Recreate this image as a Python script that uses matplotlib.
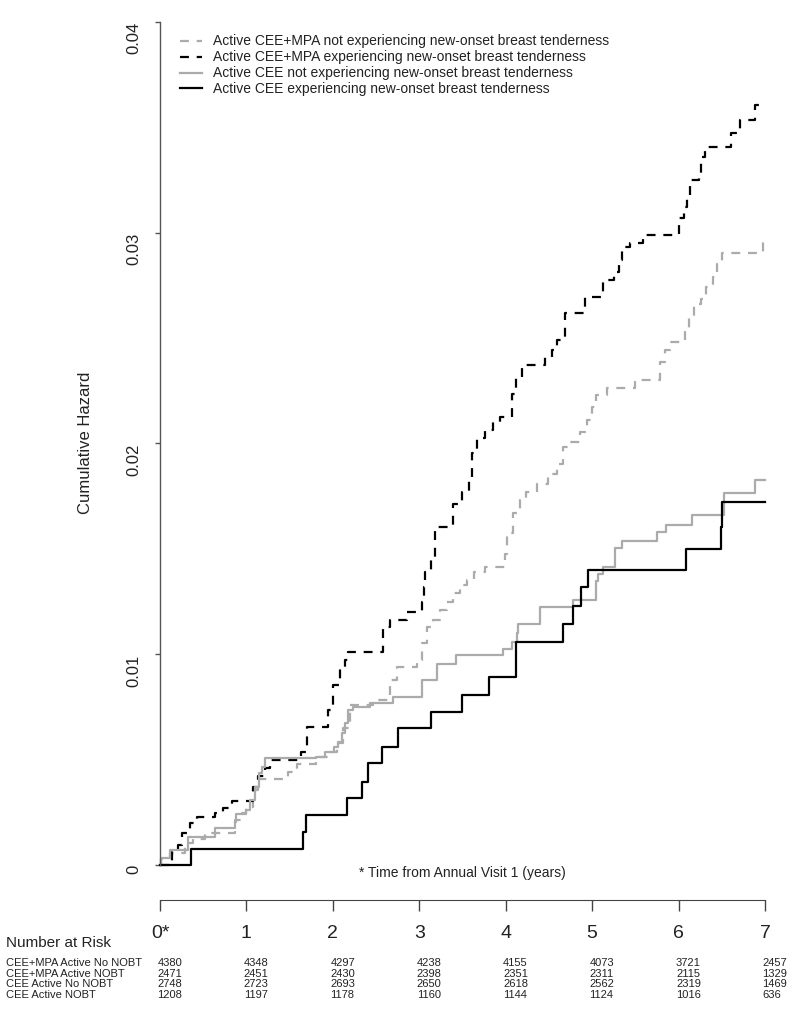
import matplotlib
matplotlib.use("Agg")
import matplotlib.pyplot as plt
from matplotlib import font_manager
from matplotlib.transforms import blended_transform_factory

# ========== DATA ==========

# CEE+MPA, not experiencing new-onset breast tenderness (gray dashed)
t_mpa_no = [0, 0.01, 0.116, 0.289, 0.38, 0.52, 0.868, 0.945, 1.0, 1.08, 1.138, 1.485, 1.58,
            1.81, 1.95, 2.045, 2.12, 2.2, 2.47, 2.66, 2.74, 2.97, 3.03, 3.086, 3.16, 3.24, 3.32,
            3.395, 3.47, 3.55, 3.63, 3.76, 3.99, 4.01, 4.09, 4.167, 4.24, 4.36, 4.49, 4.59,
            4.668, 4.745, 4.86, 4.94, 5.0, 5.05, 5.17, 5.5, 5.787, 5.845, 5.9, 6.08, 6.12,
            6.18, 6.26, 6.32, 6.4, 6.44, 6.5, 6.98, 7.0]
h_mpa_no = [0, 0.0003, 0.00057, 0.00104, 0.00125, 0.0015, 0.00213, 0.00245, 0.00276, 0.00356,
            0.00407, 0.00443, 0.00479, 0.00514, 0.00537, 0.00577, 0.00648, 0.00759, 0.00783,
            0.00878, 0.0094, 0.00973, 0.01052, 0.0113, 0.01162, 0.0121, 0.01249, 0.01289,
            0.01328, 0.01352, 0.01391, 0.01415, 0.01478, 0.01574, 0.01668, 0.01731, 0.0177,
            0.0181, 0.01857, 0.01905, 0.01984, 0.02008, 0.02055, 0.02111, 0.02174, 0.0223,
            0.02261, 0.02301, 0.02388, 0.02443, 0.02482, 0.02538, 0.026, 0.02664, 0.02688,
            0.02743, 0.02791, 0.02854, 0.02902, 0.02957, 0.02957]

# CEE+MPA, experiencing new-onset breast tenderness (black dashed)
t_mpa_yes = [0, 0.135, 0.21, 0.25, 0.347, 0.425, 0.637, 0.733, 0.83, 1.08, 1.138, 1.215, 1.27,
             1.63, 1.698, 1.948, 2.006, 2.083, 2.141, 2.18, 2.585, 2.662, 2.855, 3.03, 3.05,
             3.07, 3.14, 3.18, 3.395, 3.49, 3.57, 3.607, 3.665, 3.76, 3.858, 3.935, 4.07, 4.12,
             4.186, 4.456, 4.53, 4.59, 4.688, 4.92, 5.13, 5.25, 5.305, 5.344, 5.44, 5.594, 6.0,
             6.06, 6.1, 6.138, 6.235, 6.265, 6.31, 6.61, 6.71, 6.887, 7.0]
h_mpa_yes = [0, 0.0006, 0.00095, 0.0015, 0.00198, 0.00226, 0.00245, 0.00269, 0.00305, 0.00372,
             0.00422, 0.00459, 0.00497, 0.00537, 0.00656, 0.00735, 0.00854, 0.00933, 0.00973,
             0.01012, 0.0113, 0.01162, 0.01202, 0.01249, 0.0132, 0.01391, 0.01447, 0.01605,
             0.01715, 0.0177, 0.01826, 0.01953, 0.02024, 0.02064, 0.02103, 0.02127, 0.02237,
             0.02316, 0.02372, 0.02411, 0.02443, 0.02493, 0.02617, 0.02696, 0.02775, 0.02815,
             0.0287, 0.02933, 0.02949, 0.02989, 0.03068, 0.03123, 0.03178, 0.0325, 0.03273,
             0.0336, 0.03407, 0.03471, 0.03534, 0.03605, 0.03605]

# CEE alone, not experiencing new-onset breast tenderness (gray solid)
t_cee_no = [0, 0.01, 0.116, 0.32, 0.637, 0.868, 0.88, 1.0, 1.04, 1.1, 1.14, 1.18, 1.215, 1.81,
            1.91, 2.014, 2.064, 2.10, 2.141, 2.18, 2.237, 2.43, 2.70, 3.03, 3.20, 3.43, 3.97,
            4.07, 4.128, 4.147, 4.398, 4.784, 5.05, 5.07, 5.13, 5.27, 5.34, 5.75, 5.86, 6.15,
            6.52, 6.886, 7.0]
h_cee_no = [0, 0.00032, 0.00071, 0.00134, 0.00174, 0.00206, 0.00242, 0.00261, 0.00308, 0.00372,
            0.00435, 0.00466, 0.00506, 0.00514, 0.00537, 0.0056, 0.00585, 0.00624, 0.00672,
            0.00735, 0.0075, 0.00767, 0.00798, 0.00878, 0.00954, 0.00996, 0.01027, 0.01059,
            0.01099, 0.01143, 0.01225, 0.01257, 0.01349, 0.01383, 0.01415, 0.01502, 0.01538,
            0.01578, 0.01613, 0.0166, 0.01763, 0.01826, 0.01826]

# CEE alone, experiencing new-onset breast tenderness (black solid)
t_cee_yes = [0, 0.355, 1.655, 1.686, 2.168, 2.342, 2.411, 2.566, 2.759, 3.137, 3.491, 3.808,
             4.117, 4.668, 4.776, 4.873, 4.95, 6.084, 6.489, 6.5, 7.0]
h_cee_yes = [0, 0.00076, 0.00158, 0.00237, 0.00316, 0.00395, 0.00482, 0.00561, 0.00648, 0.00724,
             0.00808, 0.00893, 0.01059, 0.01143, 0.01229, 0.01317, 0.01402, 0.01498, 0.01605,
             0.01721, 0.01721]

legend_labels = [
    "Active CEE+MPA not experiencing new-onset breast tenderness",
    "Active CEE+MPA experiencing new-onset breast tenderness",
    "Active CEE not experiencing new-onset breast tenderness",
    "Active CEE experiencing new-onset breast tenderness",
]

# number at risk table
year_ticks = [0, 1, 2, 3, 4, 5, 6, 7]
year_labels = ["0*", "1", "2", "3", "4", "5", "6", "7"]
risk_groups = ["CEE+MPA Active No NOBT", "CEE+MPA Active NOBT", "CEE Active No NOBT", "CEE Active NOBT"]
risk_mpa_no = [4380, 4348, 4297, 4238, 4155, 4073, 3721, 2457]
risk_mpa_yes = [2471, 2451, 2430, 2398, 2351, 2311, 2115, 1329]
risk_cee_no = [2748, 2723, 2693, 2650, 2618, 2562, 2319, 1469]
risk_cee_yes = [1208, 1197, 1178, 1160, 1144, 1124, 1016, 636]

# ========== PLOTTING ==========

available = {f.name for f in font_manager.fontManager.ttflist}
narrow = "Liberation Sans Narrow" if "Liberation Sans Narrow" in available else "Liberation Sans"
plt.rcParams["font.family"] = ["Liberation Sans", "DejaVu Sans"]
TXT = "#222222"
GRAY = "#ababab"

W, H = 800, 1013
fig = plt.figure(figsize=(W / 100, H / 100), dpi=100)


def fx(px):
    return px / W


def fy(px):
    return 1 - px / H


# main axes: t=0 at x=160, t=7 at x=765; hazard 0 at y=865, 0.04 at y=22
ax = fig.add_axes([fx(160), fy(865), fx(765) - fx(160), fy(22) - fy(865)])
ax.set_xlim(0, 7)
ax.set_ylim(0, 0.04)

dash = (4, 3.5)
ax.plot(t_mpa_no, h_mpa_no, drawstyle="steps-post", color=GRAY, lw=1.6, dashes=dash,
        clip_on=False, label=legend_labels[0])
ax.plot(t_mpa_yes, h_mpa_yes, drawstyle="steps-post", color="black", lw=1.6, dashes=dash,
        clip_on=False, label=legend_labels[1])
ax.plot(t_cee_no, h_cee_no, drawstyle="steps-post", color=GRAY, lw=1.6,
        clip_on=False, label=legend_labels[2])
ax.plot(t_cee_yes, h_cee_yes, drawstyle="steps-post", color="black", lw=1.6,
        clip_on=False, label=legend_labels[3])

for s in ["top", "right", "bottom"]:
    ax.spines[s].set_visible(False)
ax.spines["left"].set_color("#555555")
ax.spines["left"].set_linewidth(1.0)
ax.set_xticks([])
ax.set_yticks([0, 0.01, 0.02, 0.03, 0.04])
ax.set_yticklabels(["0", "0.01", "0.02", "0.03", "0.04"])
ax.tick_params(axis="y", direction="out", length=3.5, width=1.0, color="#555555",
               labelsize=12, labelcolor=TXT, pad=15)
for lab in ax.get_yticklabels():
    lab.set_rotation(90)
    lab.set_va("center")
    lab.set_ha("right")
    lab.set_rotation_mode("anchor")
ax.patch.set_visible(False)

fig.text(fx(85), fy(443), "Cumulative Hazard", rotation=90, ha="center", va="center",
         fontsize=12, color=TXT)

leg = ax.legend(loc="upper left", bbox_to_anchor=(fx(180), fy(34.5)),
                bbox_transform=fig.transFigure, frameon=False, fontsize=10,
                handlelength=1.6, handletextpad=0.8, labelspacing=0.14,
                borderpad=0, borderaxespad=0)
for txt in leg.get_texts():
    txt.set_color(TXT)

fig.text(fx(462), fy(873), "* Time from Annual Visit 1 (years)", ha="center", va="center",
         fontsize=10, color=TXT)

# separate time axis below the plot
ax2 = fig.add_axes([fx(160), fy(900), fx(765) - fx(160), 0.0005])
ax2.set_xlim(0, 7)
ax2.patch.set_visible(False)
for s in ["top", "right", "left"]:
    ax2.spines[s].set_visible(False)
ax2.spines["bottom"].set_color("#444444")
ax2.set_yticks([])
ax2.set_xticks(year_ticks)
ax2.set_xticklabels(year_labels, fontfamily=narrow)
ax2.tick_params(axis="x", direction="out", length=8, width=1.0, color="#444444",
                labelsize=14, labelcolor=TXT, pad=10)

fig.text(fx(6), fy(943), "Number at Risk", ha="left", va="center", fontsize=11, color=TXT)

# number at risk rows, numbers left-aligned at each year tick
tr = blended_transform_factory(ax2.transData, fig.transFigure)
rows = [risk_mpa_no, risk_mpa_yes, risk_cee_no, risk_cee_yes]
row_y = [963, 973.5, 984, 994.5]
for name, vals, y in zip(risk_groups, rows, row_y):
    fig.text(fx(6), fy(y), name, ha="left", va="center", fontsize=8, color=TXT)
    for t, v in zip(year_ticks, vals):
        ax.text(t - 0.03, fy(y), str(v), transform=tr, ha="left", va="center",
                fontsize=8, color=TXT)

fig.savefig("out.png", dpi=100)
